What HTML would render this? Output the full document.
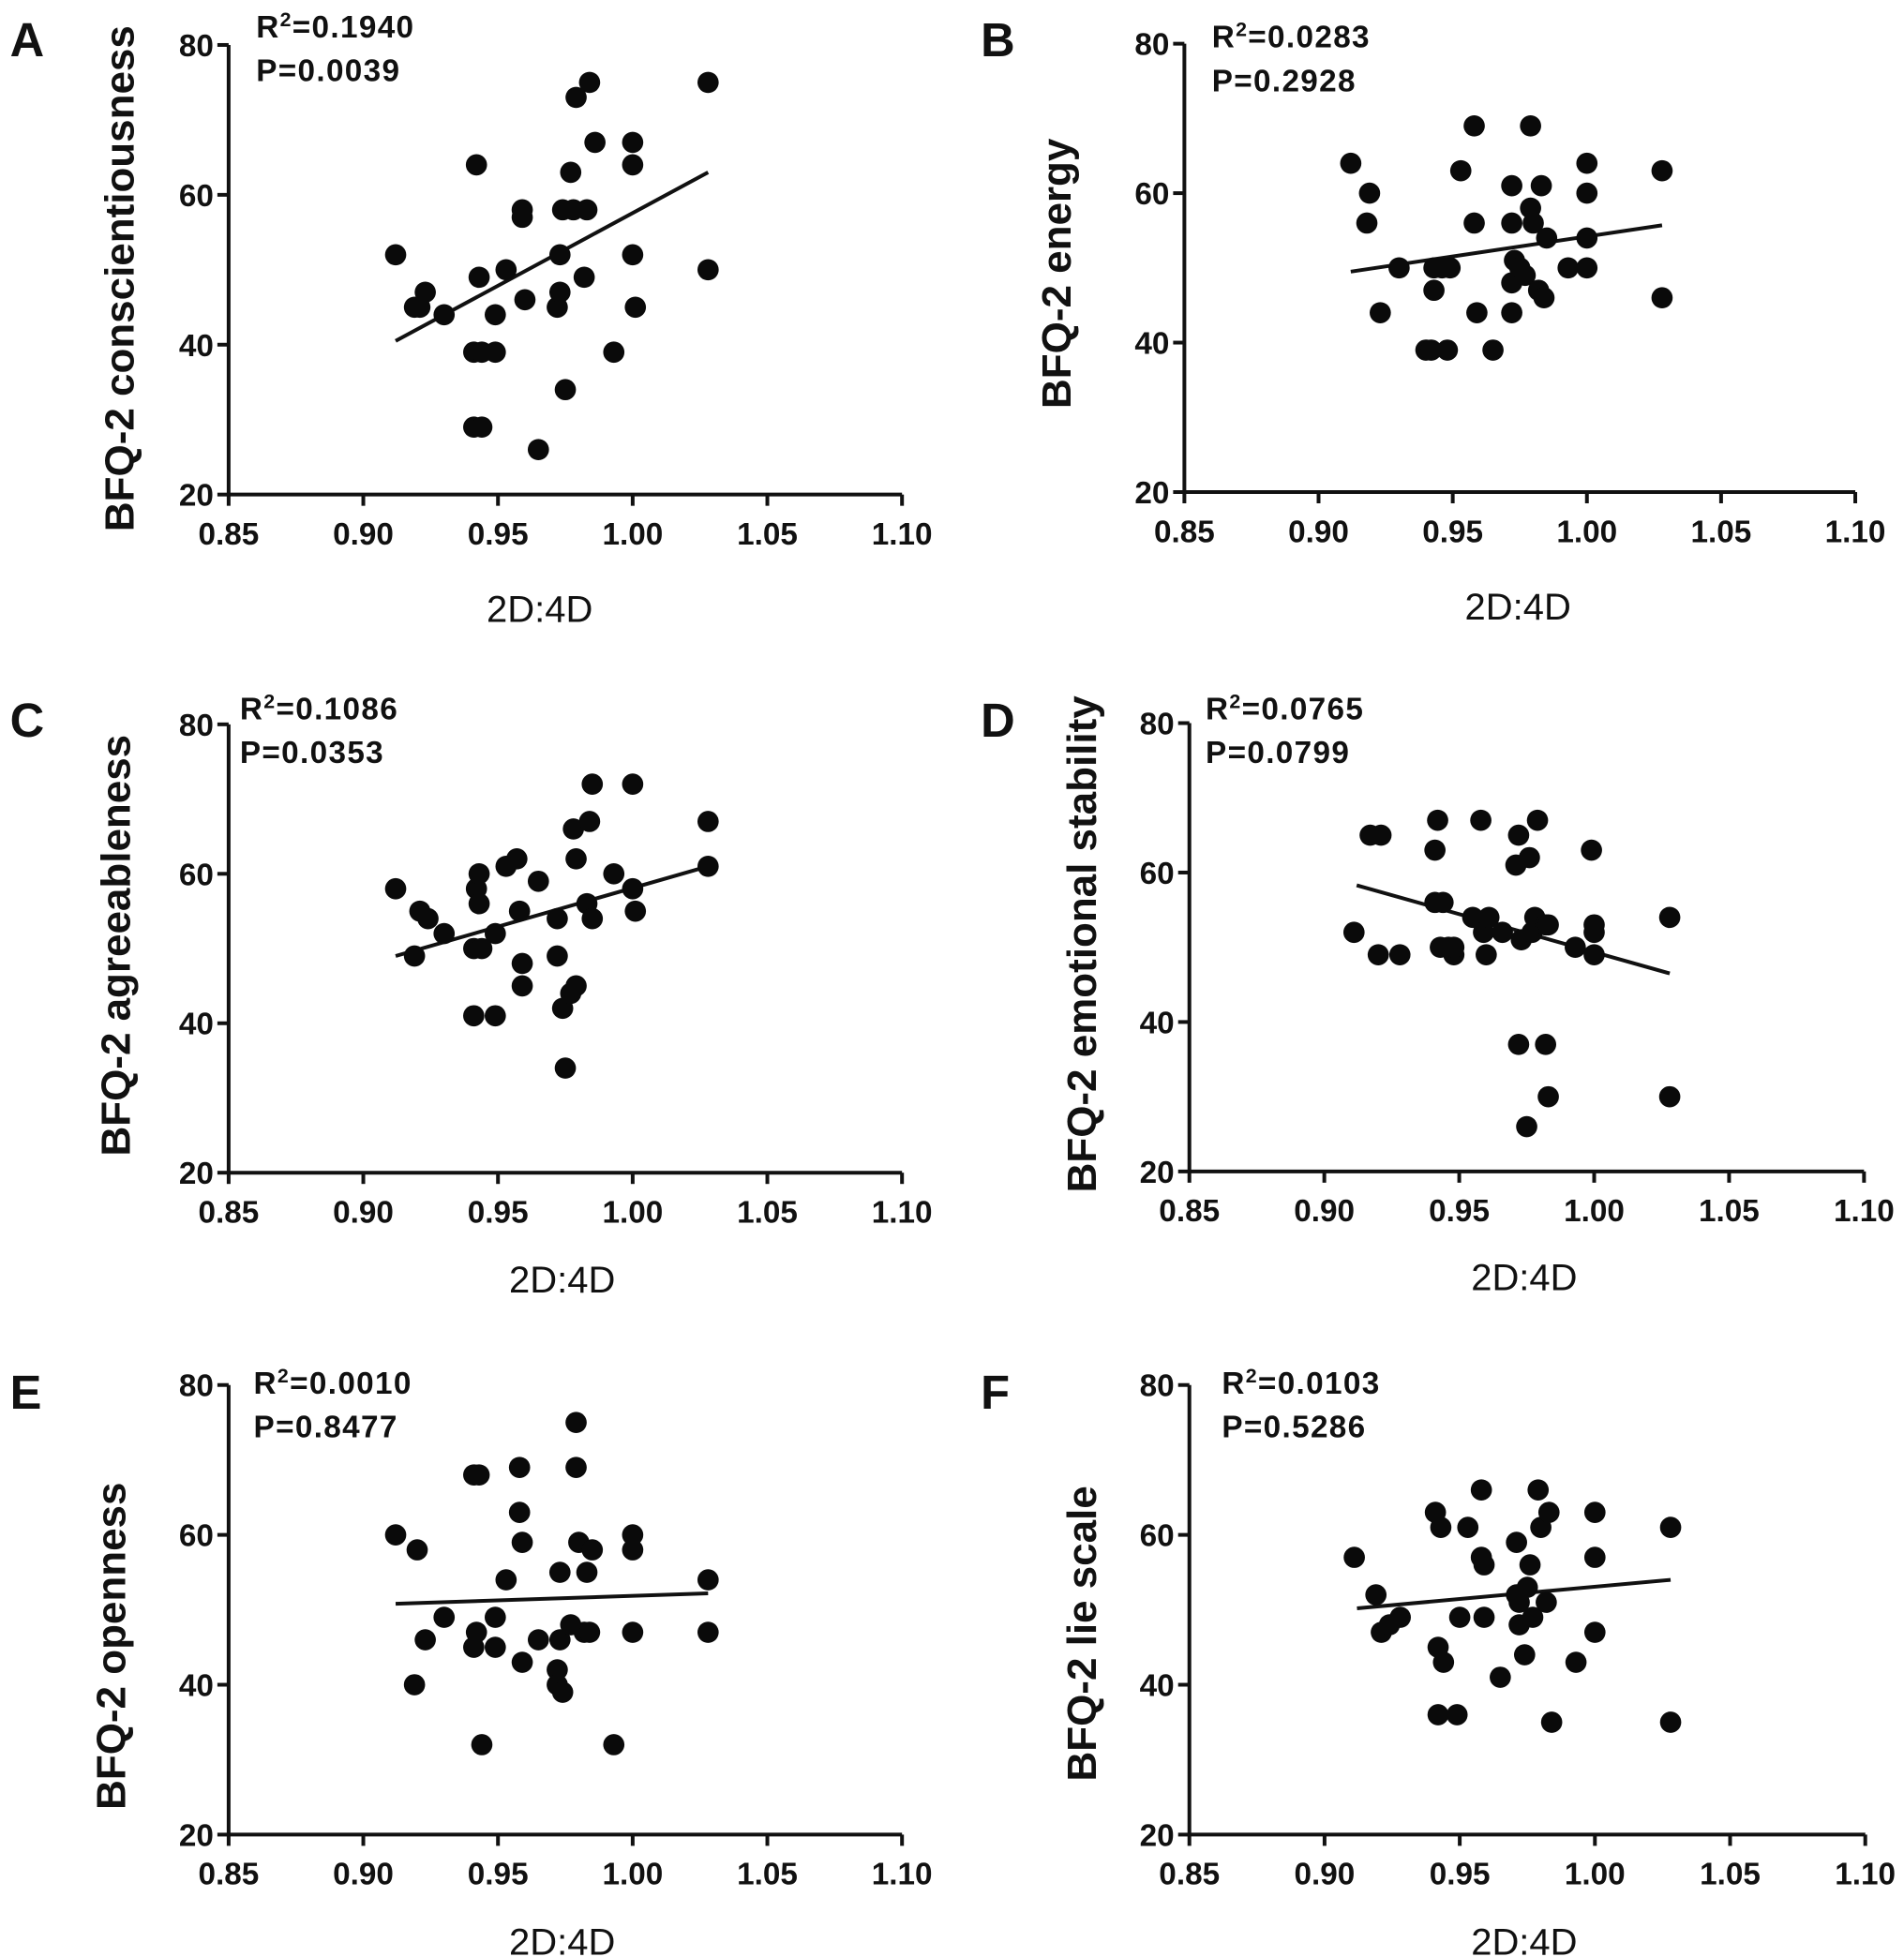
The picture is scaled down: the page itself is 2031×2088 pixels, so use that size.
<!DOCTYPE html>
<html><head><meta charset="utf-8"><style>
html,body{margin:0;padding:0;background:#fff;}
svg{display:block;}
text{font-family:"Liberation Sans",Arial,sans-serif;fill:#111;}
</style></head><body>
<svg id="chart" width="2031" height="2088" viewBox="0 0 1524 1567" preserveAspectRatio="none" xmlns="http://www.w3.org/2000/svg"></svg>
<script>
const xTicks = [0.85, 0.90, 0.95, 1.00, 1.05, 1.10];
const xTickLabels = ["0.85","0.90","0.95","1.00","1.05","1.10"];
const yTicks = [20, 40, 60, 80];
const yTickLabels = ["20","40","60","80"];
const panelLetters = ["A","B","C","D","E","F"];
const yTitles = ["BFQ-2 conscientiousness","BFQ-2 energy","BFQ-2 agreeableness","BFQ-2 emotional stability","BFQ-2 openness","BFQ-2 lie scale"];
const r2Values = ["0.1940","0.0283","0.1086","0.0765","0.0010","0.0103"];
const pValues = ["0.0039","0.2928","0.0353","0.0799","0.8477","0.5286"];
const fitStart = [40.5, 49.5, 49, 58.3, 50.8, 50.2];
const fitEnd = [63, 55.7, 61, 46.5, 52.2, 54];
const fitX = [0.912, 1.028];

const xA=[0.912,0.919,0.921,0.923,0.930,0.942,0.941,0.944,0.941,0.944,0.943,0.949,0.949,0.953,0.959,0.959,0.960,0.965,0.972,0.973,0.973,0.974,0.975,0.977,0.978,0.979,0.982,0.983,0.984,0.986,0.993,1.000,1.000,1.000,1.001,1.028,1.028];
const yA=[52,45,45,47,44,64,39,39,29,29,49,44,39,50,58,57,46,26,45,47,52,58,34,63,58,73,49,58,75,67,39,67,64,52,45,75,50];
const xB=[0.912,0.919,0.918,0.923,0.930,0.940,0.942,0.943,0.943,0.946,0.948,0.949,0.953,0.958,0.958,0.959,0.965,0.972,0.972,0.972,0.972,0.973,0.975,0.977,0.979,0.979,0.980,0.982,0.983,0.984,0.985,0.993,1.000,1.000,1.000,1.000,1.028,1.028];
const yB=[64,60,56,44,50,39,39,47,50,50,39,50,63,69,56,44,39,56,61,48,44,51,50,49,69,58,56,47,61,46,54,50,64,60,54,50,63,46];
const xC=[0.912,0.919,0.921,0.924,0.930,0.941,0.942,0.943,0.943,0.941,0.944,0.949,0.949,0.953,0.957,0.958,0.959,0.959,0.965,0.972,0.972,0.974,0.975,0.977,0.978,0.979,0.979,0.983,0.984,0.985,0.985,0.993,1.000,1.000,1.001,1.028,1.028];
const yC=[58,49,55,54,52,50,58,60,56,41,50,41,52,61,62,55,48,45,59,49,54,42,34,44,66,45,62,56,67,72,54,60,72,58,55,67,61];
const xD=[0.911,0.917,0.921,0.920,0.928,0.941,0.942,0.941,0.943,0.944,0.946,0.948,0.948,0.955,0.958,0.959,0.960,0.961,0.966,0.971,0.972,0.972,0.973,0.975,0.976,0.977,0.978,0.979,0.982,0.982,0.983,0.983,0.993,0.999,1.000,1.000,1.000,1.028,1.028];
const yD=[52,65,65,49,49,63,67,56,50,56,50,49,50,54,67,52,49,54,52,61,65,37,51,26,62,52,54,67,37,53,30,53,50,63,52,53,49,54,30];
const xE=[0.912,0.919,0.920,0.923,0.930,0.941,0.943,0.942,0.941,0.944,0.949,0.949,0.953,0.958,0.958,0.959,0.959,0.965,0.972,0.972,0.973,0.973,0.974,0.977,0.979,0.979,0.980,0.982,0.983,0.984,0.985,0.993,1.000,1.000,1.000,1.028,1.028];
const yE=[60,40,58,46,49,68,68,47,45,32,49,45,54,69,63,59,43,46,42,40,55,46,39,48,75,69,59,47,55,47,58,32,60,58,47,54,47];
const xF=[0.911,0.919,0.921,0.924,0.928,0.941,0.942,0.943,0.944,0.942,0.949,0.950,0.953,0.958,0.958,0.959,0.959,0.965,0.971,0.971,0.972,0.972,0.974,0.975,0.976,0.977,0.979,0.980,0.982,0.983,0.984,0.993,1.000,1.000,1.000,1.028,1.028];
const yF=[57,52,47,48,49,63,45,61,43,36,36,49,61,66,57,56,49,41,59,52,48,51,44,53,56,49,66,61,51,63,35,43,63,57,47,61,35];
const seriesX=[xA,xB,xC,xD,xE,xF];
const seriesY=[yA,yB,yC,yD,yE,yF];

const layout=[
 {ax:183,top:36,bot:396,right:722,lx:8,ly:45,tx:95,ty:223,xtx:432,xty:498,rx:205,ry:30},
 {ax:948,top:35,bot:394,right:1485,lx:785,ly:45,tx:845,ty:219,xtx:1215,xty:496,rx:970,ry:38},
 {ax:183,top:580,bot:939,right:722,lx:8,ly:590,tx:92,ty:757,xtx:450,xty:1035,rx:192,ry:576},
 {ax:952,top:579,bot:938,right:1492,lx:785,ly:590,tx:865,ty:756,xtx:1220,xty:1033,rx:965,ry:576},
 {ax:183,top:1109,bot:1469,right:722,lx:8,ly:1128,tx:88,ty:1318,xtx:450,xty:1565,rx:203,ry:1116},
 {ax:952,top:1109,bot:1469,right:1493,lx:785,ly:1128,tx:865,ty:1308,xtx:1220,xty:1565,rx:978,ry:1116}
];
const NS="http://www.w3.org/2000/svg";
const svg=document.getElementById('chart');
function mk(tag,attrs,parent,txt){const e=document.createElementNS(NS,tag);for(const k in attrs)e.setAttribute(k,attrs[k]);if(txt!==undefined)e.textContent=txt;parent.appendChild(e);return e;}

layout.forEach((L,i)=>{
  const g=mk('g',{},svg);
  
  
  const sx=v=>L.ax+(v-0.85)/0.25*(L.right-L.ax);
  const sy=v=>L.bot-(v-20)/60*(L.bot-L.top);
  const xa=mk('line',{x1:L.ax,y1:L.bot,x2:L.right,y2:L.bot,stroke:'#111','stroke-width':3},g);
  
  
  const ya=mk('line',{x1:L.ax,y1:L.top,x2:L.ax,y2:L.bot,stroke:'#111','stroke-width':3},g);
  
  
  xTicks.forEach((t,j)=>{
    mk('line',{x1:sx(t),y1:L.bot,x2:sx(t),y2:L.bot+9,stroke:'#111','stroke-width':3},g);
    const tl=mk('text',{x:sx(t),y:L.bot+40,'text-anchor':'middle','font-size':25,'font-weight':'bold',fill:'#333'},g,xTickLabels[j]);
    
    
  });
  yTicks.forEach((t,j)=>{
    mk('line',{x1:L.ax-9,y1:sy(t),x2:L.ax,y2:sy(t),stroke:'#111','stroke-width':3},g);
    const tl=mk('text',{x:L.ax-12,y:sy(t)+9,'text-anchor':'end','font-size':25,'font-weight':'bold',fill:'#333'},g,yTickLabels[j]);
    
    
  });
  const fl=mk('line',{x1:sx(fitX[0]),y1:sy(fitStart[i]),x2:sx(fitX[1]),y2:sy(fitEnd[i]),stroke:'#111','stroke-width':3},g);
  
  
  seriesX[i].forEach((x,j)=>{
    const c=mk('circle',{cx:sx(x),cy:sy(seriesY[i][j]),r:8.5,fill:'#0a0a0a'},g);
    
    
  });
  const lt=mk('text',{x:L.lx,y:L.ly,'font-size':38,'font-weight':'bold',fill:'#000'},g,panelLetters[i]);
  
  
  const yt=mk('text',{x:0,y:0,'text-anchor':'middle','font-size':33,'font-weight':'bold',transform:`translate(${L.tx+12},${L.ty}) rotate(-90)`},g,yTitles[i]);
  
  
  const xt=mk('text',{x:L.xtx,y:L.xty,'text-anchor':'middle','font-size':30,fill:'#222'},g,'2D:4D');
  
  
  const r2=mk('text',{x:L.rx,y:L.ry,'font-size':25,'font-weight':'bold',fill:'#333','letter-spacing':1},g);
  
  
  r2.innerHTML='R<tspan font-size="16" dy="-9">2</tspan><tspan dy="9">=' + r2Values[i] + '</tspan>';
  const pt=mk('text',{x:L.rx,y:L.ry+35,'font-size':25,'font-weight':'bold',fill:'#333','letter-spacing':1},g,'P=' + pValues[i]);
  
  
});
</script>
</body></html>
